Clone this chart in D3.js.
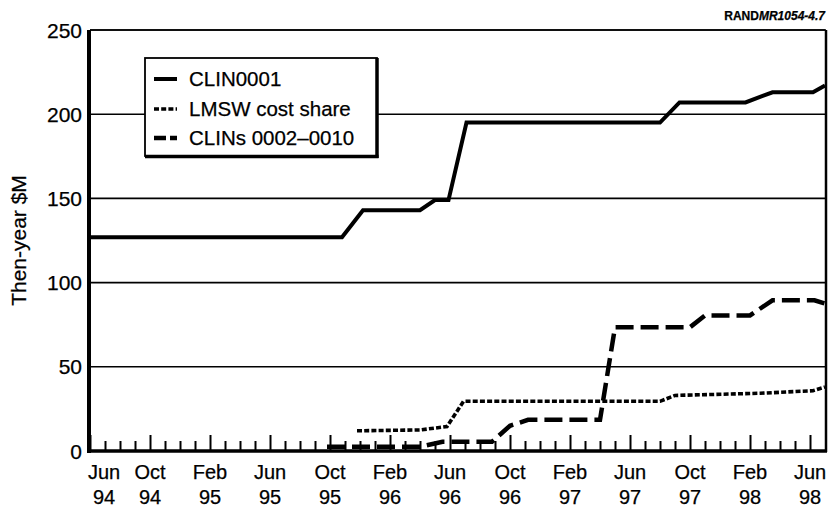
<!DOCTYPE html>
<html>
<head>
<meta charset="utf-8">
<script src="https://cdn.jsdelivr.net/npm/d3@7/dist/d3.min.js"></script>
<style>
  html, body { margin: 0; padding: 0; background: #fff; }
  svg { display: block; font-family: "Liberation Sans", Arial, Helvetica, sans-serif; }
  text { stroke: #000; stroke-width: 0.25px; }
</style>
</head>
<body>
<div id="chart"></div>
<script>
// ---- data (month index: 0 = Jun 94) ----
const labelMonths = [0, 4, 8, 12, 16, 20, 24, 28, 32, 36, 40, 44, 48];
const monthLabels = ["Jun", "Oct", "Feb", "Jun", "Oct", "Feb", "Jun", "Oct", "Feb", "Jun", "Oct", "Feb", "Jun"];
const yearLabels  = ["94", "94", "95", "95", "95", "96", "96", "96", "97", "97", "97", "98", "98"];
const yTicks = [0, 50, 100, 150, 200, 250];

const clin0001Months = [0, 16.8, 18.2, 22, 23, 23.9, 25.1, 38, 39.3, 43.7, 45.5, 48.2, 49];
const clin0001Values = [127, 127, 143, 143, 149, 149, 195, 195, 207, 207, 213, 213, 217];

const lmswMonths = [17.8, 22, 23.8, 24.9, 38, 39, 44.7, 48.2, 49];
const lmswValues = [12, 12.5, 14.5, 29.5, 29.5, 33, 34.3, 35.8, 38];

const clinsMonths = [15.8, 22, 23.5, 26.8, 28, 29.2, 34, 35, 40, 41, 44, 45.5, 48.3, 49];
const clinsValues = [2.5, 2.5, 5.5, 5.5, 15, 18.5, 18.5, 73.5, 73.5, 80.5, 80.5, 89.5, 89.5, 87.5];

const seriesNames = ["CLIN0001", "LMSW cost share", "CLINs 0002\u20130010"];

// ---- layout ----
const W = 835, H = 511;
const pL = 90, pR = 825, pT = 30, pB = 451;

const svg = d3.select("#chart").append("svg").attr("width", W).attr("height", H);

const x = d3.scaleLinear().domain([0, 49]).range([pL, pR]);
const y = d3.scaleLinear().domain([0, 250]).range([pB, pT]);

// gridlines
svg.append("g")
  .selectAll("line").data(yTicks.filter(d => d > 0)).join("line")
  .attr("x1", pL).attr("x2", pR)
  .attr("y1", d => y(d)).attr("y2", d => y(d))
  .attr("stroke", "#000").attr("stroke-width", 1.6);

// y tick labels
svg.append("g")
  .selectAll("text").data(yTicks).join("text")
  .attr("x", 82).attr("y", d => y(d) + 7.5)
  .attr("text-anchor", "end").attr("font-size", 21)
  .text(d => d);

// y axis title
svg.append("text")
  .attr("transform", `translate(26,${(pT + pB) / 2}) rotate(-90)`)
  .attr("text-anchor", "middle").attr("font-size", 21)
  .text("Then-year $M");

// x minor ticks (monthly)
const monthly = d3.range(0, 49);
svg.append("g")
  .attr("transform", `translate(0,${pB})`)
  .call(d3.axisBottom(x).tickValues(monthly.filter(m => m % 4 !== 0)).tickSize(-10).tickFormat(""))
  .call(g => g.select(".domain").remove())
  .call(g => g.selectAll("line").attr("stroke", "#000").attr("stroke-width", 2));

// x major ticks
svg.append("g")
  .attr("transform", `translate(0,${pB})`)
  .call(d3.axisBottom(x).tickValues(labelMonths).tickSize(-16).tickFormat(""))
  .call(g => g.select(".domain").remove())
  .call(g => g.selectAll("line").attr("stroke", "#000").attr("stroke-width", 2));

// x labels
const xl = svg.append("g");
labelMonths.forEach((m, i) => {
  const cx = x(m) + (i === 0 ? 14 : 0);
  xl.append("text").attr("x", cx).attr("y", 479).attr("text-anchor", "middle")
    .attr("font-size", 20).text(monthLabels[i]);
  xl.append("text").attr("x", cx).attr("y", 504).attr("text-anchor", "middle")
    .attr("font-size", 20).text(yearLabels[i]);
});

// frame
svg.append("line").attr("x1", pL).attr("x2", pR + 1).attr("y1", pT).attr("y2", pT)
  .attr("stroke", "#000").attr("stroke-width", 1.6);
svg.append("line").attr("x1", pR + 1).attr("x2", pR + 1).attr("y1", pT).attr("y2", pB + 1)
  .attr("stroke", "#000").attr("stroke-width", 2.5);

// lines
const line = d3.line().x(d => x(d[0])).y(d => y(d[1]));
const zip = (a, b) => a.map((v, i) => [v, b[i]]);

const styles = [
  { w: 4, dash: null },
  { w: 3.6, dash: "5,2.2" },
  { w: 4.5, dash: "18,7" }
];

svg.append("path").datum(zip(clinsMonths, clinsValues))
  .attr("d", line).attr("fill", "none").attr("stroke", "#000")
  .attr("stroke-width", styles[2].w).attr("stroke-dasharray", styles[2].dash);
svg.append("path").datum(zip(lmswMonths, lmswValues))
  .attr("d", line).attr("fill", "none").attr("stroke", "#000")
  .attr("stroke-width", styles[1].w).attr("stroke-dasharray", styles[1].dash);
svg.append("path").datum(zip(clin0001Months, clin0001Values))
  .attr("d", line).attr("fill", "none").attr("stroke", "#000")
  .attr("stroke-width", styles[0].w);

// axes lines (thick left and bottom)
svg.append("line").attr("x1", pL - 1).attr("x2", pL - 1).attr("y1", pT).attr("y2", pB + 2)
  .attr("stroke", "#000").attr("stroke-width", 4);
svg.append("line").attr("x1", pL - 3).attr("x2", pR + 2).attr("y1", pB).attr("y2", pB)
  .attr("stroke", "#000").attr("stroke-width", 3.5);

// legend
const lg = svg.append("g");
lg.append("rect").attr("x", 145).attr("y", 58).attr("width", 232).attr("height", 98)
  .attr("fill", "#fff").attr("stroke", "#000").attr("stroke-width", 1.8);
lg.append("line").attr("x1", 377).attr("x2", 377).attr("y1", 58).attr("y2", 158)
  .attr("stroke", "#000").attr("stroke-width", 3.5);
lg.append("line").attr("x1", 145).attr("x2", 378.5).attr("y1", 156.5).attr("y2", 156.5)
  .attr("stroke", "#000").attr("stroke-width", 3.5);
const rowsY = [79, 109, 138];
seriesNames.forEach((name, i) => {
  lg.append("line").attr("x1", 154).attr("x2", 177).attr("y1", rowsY[i]).attr("y2", rowsY[i])
    .attr("stroke", "#000").attr("stroke-width", styles[i].w)
    .attr("stroke-dasharray", i === 2 ? "12,4" : styles[i].dash);
  lg.append("text").attr("x", 189).attr("y", rowsY[i] + 7).attr("font-size", 20.5).text(name);
});

// source label
const src = svg.append("text").attr("x", 825).attr("y", 20).attr("text-anchor", "end")
  .attr("font-size", 12).attr("font-weight", "bold");
src.append("tspan").text("RAND");
src.append("tspan").attr("font-style", "italic").text("MR1054-4.7");
</script>
</body>
</html>
